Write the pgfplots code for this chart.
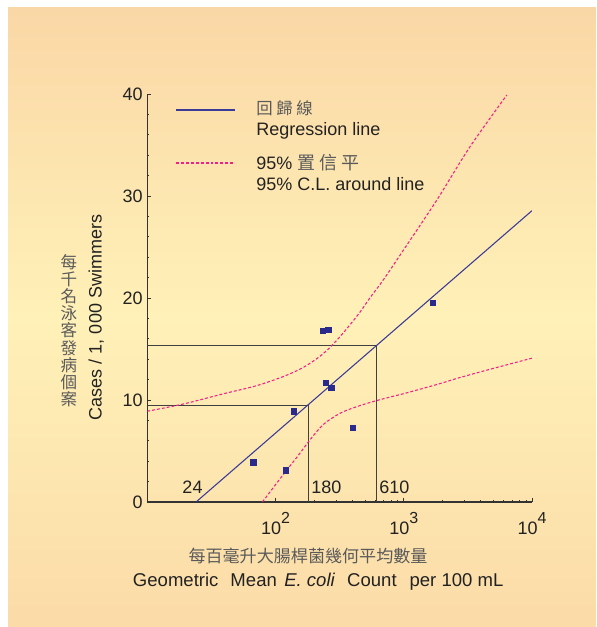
\documentclass[border=0pt]{standalone}
\usepackage{pgfplots}
\pgfplotsset{compat=1.18}
\usepackage{fontspec}
\setmainfont{Liberation Sans}
\newfontfamily\cjk{Noto Sans CJK TC}
\definecolor{bgtop}{HTML}{FAD7A6}
\definecolor{bgmid}{HTML}{FFF1B8}
\definecolor{bgbot}{HTML}{FBDBA8}
\definecolor{regblue}{HTML}{3A3A98}
\definecolor{ptblue}{HTML}{2A2A8C}
\definecolor{cipink}{HTML}{F0208A}
\definecolor{axgray}{HTML}{333333}
\definecolor{refgray}{HTML}{404040}
\definecolor{cjkgray}{HTML}{5A5A5A}
\definecolor{txt}{HTML}{222222}
\newcommand{\pw}[1]{10\raisebox{0.6em}{\fontsize{12pt}{12pt}\selectfont #1}}
\begin{document}
\begin{tikzpicture}
\begin{scope}[x=0.75pt,y=0.75pt]
\useasboundingbox (0,0) rectangle (596,627);
\shade[top color=bgtop, bottom color=bgbot, middle color=bgmid] (8,0) rectangle (596,619);
\end{scope}
\begin{axis}[
  at={(110.475pt,93.75pt)}, anchor=south west,
  scale only axis, width=288.5pt, height=306pt,
  xmode=log, xmin=10, xmax=10000, ymin=0, ymax=40,
  axis x line=bottom, axis y line=left,
  axis line style={-, axgray, line width=0.8pt},
  tick align=inside, major tick length=3pt, minor tick length=1.6pt,
  tick style={axgray, line width=0.7pt},
  xtick={100,1000,10000},
  xticklabels={\pw{2},\pw{3},\pw{4}},
  xticklabel style={yshift=-4.5pt},
  minor xtick={},
  ytick={0,10,20,30,40},
  minor ytick={2,4,6,8,12,14,16,18,22,24,26,28,32,34,36,38},
  ticklabel style={font=\fontsize{13.5pt}{16pt}\selectfont, text=txt},
  /pgf/number format/assume math mode=true,
]
% reference lines
\addplot[refgray, line width=0.8pt] coordinates {(10,9.5) (180,9.5) (180,0)};
\addplot[refgray, line width=0.8pt] coordinates {(10,15.3) (610,15.3) (610,0)};
% regression line
\addplot[regblue, line width=0.8pt] coordinates {(24,0) (10000,28.56)};
% confidence limits
\addplot[cipink, line width=0.8pt, dash pattern=on 2.2pt off 1.5pt, smooth] coordinates {
 (10,8.9) (19,9.6) (39,10.6) (71,11.4) (115,12.3) (165,13.2) (223,14.3) (283,15.5)
 (360,17.0) (455,18.6) (544,20.0) (695,21.8) (995,24.7) (1811,29.6) (3274,34.8) (6368,39.9)};
\addplot[cipink, line width=0.8pt, dash pattern=on 2.2pt off 1.5pt, smooth] coordinates {
 (79,0) (100,1.7) (120,3.0) (147,4.4) (186,6.1) (236,7.6) (319,8.7) (431,9.35) (617,9.95)
 (1054,10.7) (1910,11.6) (2737,12.2) (5000,13.1) (10000,14.1)};
% observations
\addplot[only marks, mark=square*, mark size=2pt, mark options={ptblue, draw=ptblue}] coordinates {
 (67,3.9) (120,3.1) (138,8.9) (234,16.8) (258,16.9) (247,11.7) (272,11.2) (399,7.3) (1686,19.5)};
\end{axis}
\begin{scope}[x=0.75pt,y=0.75pt]
% value labels
\node[anchor=base, inner sep=0, text=txt, font=\fontsize{13.5pt}{16pt}\selectfont] at (192.5,133.7) {24};
\node[anchor=base west, inner sep=0, text=txt, font=\fontsize{13.5pt}{16pt}\selectfont] at (311,133.7) {180};
\node[anchor=base west, inner sep=0, text=txt, font=\fontsize{13.5pt}{16pt}\selectfont] at (379,133.7) {610};
% legend
\draw[regblue, line width=0.8pt] (176,517) -- (235,517);
\draw[cipink, line width=0.8pt, dash pattern=on 2.2pt off 1.5pt] (176,464) -- (235,464);
\node[anchor=base west, inner sep=0, text=cjkgray, font=\cjk\fontsize{12.3pt}{14pt}\selectfont] at (256,512.5) {回 歸 線};
\node[anchor=base west, inner sep=0, text=txt, font=\fontsize{13.5pt}{16pt}\selectfont] at (256,491) {Regression line};
\node[anchor=base west, inner sep=0, text=txt, font=\fontsize{13.5pt}{16pt}\selectfont] at (256,457.7) {95\% {\cjk\color{cjkgray}置 信 平}};
\node[anchor=base west, inner sep=0, text=txt, font=\fontsize{13.5pt}{16pt}\selectfont] at (256,436) {95\% C.L. around line};
% axis labels
\node[anchor=base, rotate=90, inner sep=0, text=txt, font=\fontsize{13.5pt}{16pt}\selectfont] at (101.7,309.5) {Cases / 1, 000 Swimmers};
\node[align=center, inner sep=0, text=cjkgray, font=\cjk\fontsize{12.4pt}{12.9pt}\selectfont] at (69,296.5) {每\\千\\名\\泳\\客\\發\\病\\個\\案};
\node[inner sep=0, text=cjkgray, font=\cjk\fontsize{12.8pt}{14pt}\selectfont] at (308,71.5) {每百毫升大腸桿菌幾何平均數量};
\node[anchor=base, inner sep=0, text=txt, font=\fontsize{13.9pt}{16pt}\selectfont] at (318.2,40.3) {Geometric\hspace{0.65em}Mean\hspace{0.4em}\textit{E. coli}\hspace{0.65em}Count\hspace{0.7em}per 100 mL};
\end{scope}
\end{tikzpicture}
\end{document}
